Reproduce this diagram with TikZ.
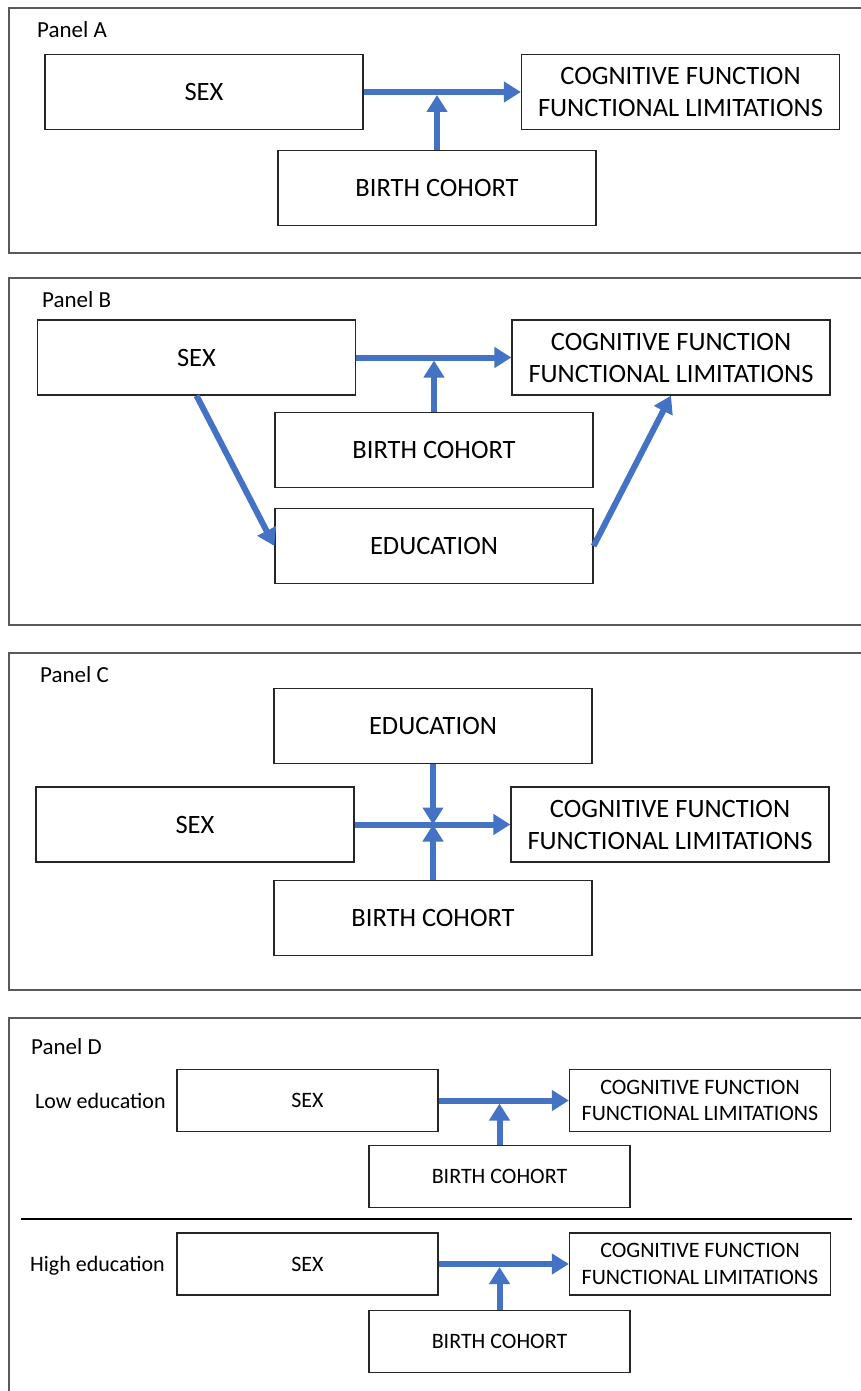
\documentclass[tikz,border=0pt]{standalone}
\usepackage{fontspec}
\setmainfont{Carlito}
\usetikzlibrary{arrows.meta}
\definecolor{arrowblue}{HTML}{4472C4}
\definecolor{panelgray}{HTML}{595959}

\begin{document}
\begin{tikzpicture}[x=1pt,y=-1pt]
	\tikzstyle{box_big} = [draw=black!85, line width=1.2pt, minimum width=318pt, minimum height=75pt, inner sep=0pt, align=center, font=\fontsize{26.5}{32}\selectfont]
	\tikzstyle{box_small} = [draw=black!85, line width=1.2pt, minimum width=261pt, minimum height=62pt, inner sep=0pt, align=center, font=\fontsize{22}{26.5}\selectfont]
	\tikzstyle{panel_frame} = [draw=panelgray, line width=1.4pt]
	\tikzstyle{panel_label} = [anchor=west, inner sep=0pt, font=\fontsize{23}{27}\selectfont]
	\tikzstyle{arrow_blue} = [draw=arrowblue, line width=6pt, -{Triangle[width=20pt,length=17pt]}]

	\useasboundingbox (0,0) rectangle (861,1391);

%------------------------------------------------------------
	\draw[panel_frame] (9,8) rectangle (880,253);
	\node[panel_label] (a_title) at (37,30) {Panel A};

	\node[box_big] (a_sex) at (204,92) {SEX};
	\node[box_big] (a_cog) at (680.5,92) {COGNITIVE FUNCTION\\FUNCTIONAL LIMITATIONS};
	\node[box_big] (a_bc) at (437,188) {BIRTH COHORT};
	\coordinate (a_join) at (a_bc.north |- a_sex.east);

	\draw[arrow_blue] (a_sex) -- (a_cog);
	\draw[arrow_blue, shorten >=3pt] (a_bc.north) -- (a_join);

%------------------------------------------------------------
	\draw[panel_frame] (9,278) rectangle (880,625);
	\node[panel_label] (b_title) at (42,300) {Panel B};

	\node[box_big] (b_sex) at (196.5,357.5) {SEX};
	\node[box_big] (b_cog) at (671,357.5) {COGNITIVE FUNCTION\\FUNCTIONAL LIMITATIONS};
	\node[box_big] (b_bc) at (434,450) {BIRTH COHORT};
	\node[box_big] (b_edu) at (434,546) {EDUCATION};
	\coordinate (b_join) at (b_bc.north |- b_sex.east);

	\draw[arrow_blue] (b_sex) -- (b_cog);
	\draw[arrow_blue, shorten >=3pt] (b_bc.north) -- (b_join);
	\draw[arrow_blue] (b_sex.south) -- (b_edu.west);
	\draw[arrow_blue] (b_edu.east) -- (b_cog.south);

%------------------------------------------------------------
	\draw[panel_frame] (9,653) rectangle (880,990);
	\node[panel_label] (c_title) at (40,675) {Panel C};

	\node[box_big] (c_edu) at (433,726) {EDUCATION};
	\node[box_big] (c_sex) at (195,824.5) {SEX};
	\node[box_big] (c_cog) at (670,824.5) {COGNITIVE FUNCTION\\FUNCTIONAL LIMITATIONS};
	\node[box_big] (c_bc) at (433,918) {BIRTH COHORT};
	\coordinate (c_join) at (c_bc.north |- c_sex.east);

	\draw[arrow_blue] (c_sex) -- (c_cog);
	\draw[arrow_blue] (c_edu.south) -- (c_join);
	\draw[arrow_blue] (c_bc.north) -- (c_join);

%------------------------------------------------------------
	\draw[panel_frame] (9,1420) -- (9,1018) -- (880,1018);
	\node[panel_label] (d_title) at (31,1047) {Panel D};

	\node[panel_label, font=\fontsize{22}{26}\selectfont] (d_low) at (35,1101) {Low education};
	\node[box_small] (d_sex1) at (307.5,1100.5) {SEX};
	\node[box_small] (d_cog1) at (700,1100.5) {COGNITIVE FUNCTION\\FUNCTIONAL LIMITATIONS};
	\node[box_small] (d_bc1) at (499.5,1176.5) {BIRTH COHORT};
	\coordinate (d_join1) at (d_bc1.north |- d_sex1.east);

	\draw[arrow_blue] (d_sex1) -- (d_cog1);
	\draw[arrow_blue, shorten >=3pt] (d_bc1.north) -- (d_join1);

	\coordinate (d_sep_l) at (21,1219);
	\coordinate (d_sep_r) at (852,1219);
	\draw[black, line width=1.1pt] (d_sep_l) -- (d_sep_r);

	\node[panel_label, font=\fontsize{22}{26}\selectfont] (d_high) at (30,1266) {High education};
	\node[box_small] (d_sex2) at (307.5,1264) {SEX};
	\node[box_small] (d_cog2) at (700,1264) {COGNITIVE FUNCTION\\FUNCTIONAL LIMITATIONS};
	\node[box_small] (d_bc2) at (499.5,1341.5) {BIRTH COHORT};
	\coordinate (d_join2) at (d_bc2.north |- d_sex2.east);

	\draw[arrow_blue] (d_sex2) -- (d_cog2);
	\draw[arrow_blue, shorten >=3pt] (d_bc2.north) -- (d_join2);

\end{tikzpicture}
\end{document}
